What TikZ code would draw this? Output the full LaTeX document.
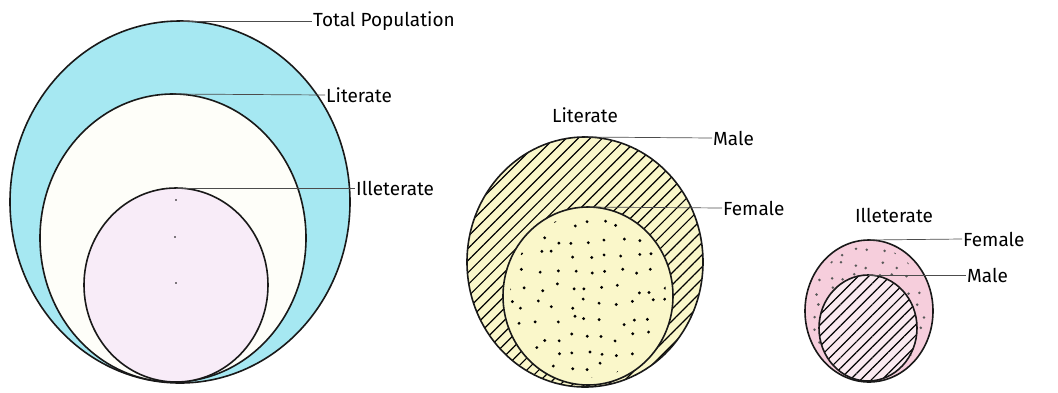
\documentclass[tikz,border=0pt]{standalone}
\usepackage{fontspec}
\setmainfont{Fira Sans}
\usetikzlibrary{shapes.geometric,patterns.meta}
\definecolor{popcyan}{RGB}{166,232,242}
\definecolor{litwhite}{RGB}{254,254,249}
\definecolor{illlilac}{RGB}{248,236,248}
\definecolor{lityellow}{RGB}{250,247,202}
\definecolor{illpink}{RGB}{246,206,220}
\definecolor{malepink}{RGB}{250,234,240}
\tikzset{
  ring/.style={ellipse, draw=black!90, line width=1.6pt, inner sep=0pt, outer sep=0pt},
  lbl/.style={anchor=west, inner sep=1pt, font=\fontsize{19}{21}\selectfont},
  lead/.style={draw=black!70, line width=0.7pt},
  hatch/.style={pattern={Lines[angle=45,distance=8.5pt,line width=1.2pt]}},
}
\begin{document}
\begin{tikzpicture}[x=1pt,y=-1pt]
  \useasboundingbox (0,0) rectangle (1058,392);

  % Total population, literate, illeterate
  \node[ring, fill=popcyan, minimum width=340pt, minimum height=362pt] (total) at (180,202) {};
  \node[ring, fill=litwhite, minimum width=266pt, minimum height=288pt] (lit) at (173,238) {};
  \node[ring, fill=illlilac, minimum width=184pt, minimum height=194pt] (ill) at (176,285) {};
  \fill (176,200) circle (0.9pt) (175,237) circle (0.9pt) (176,283) circle (0.9pt);
  \node[lbl] (totlbl) at (312,21) {Total Population};
  \node[lbl] (litlbl) at (325,95) {Literate};
  \node[lbl] (illlbl) at (355,188) {Illeterate};
  \draw[lead] (total.north) -- (totlbl.west);
  \draw[lead] (lit.north) -- (litlbl.west);
  \draw[lead] (ill.north) -- (illlbl.west);

  % Literate: male and female
  \node[font=\fontsize{19}{21}\selectfont] (littitle) at (585,115) {Literate};
  \node[ring, preaction={fill=lityellow}, hatch, minimum width=236pt, minimum height=250pt] (litmale) at (585,262) {};
  \node[ring, fill=lityellow, minimum width=170pt, minimum height=178pt] (litfem) at (588,296) {};
  \pgfmathsetseed{11}
  \begin{scope}
    \clip (588,296) ellipse [x radius=78, y radius=82];
    \foreach \gx in {-80,-64,...,80}
      \foreach \gy in {-88,-72,...,88}
        \fill ({588+\gx+10*(rnd-0.5)},{296+\gy+10*(rnd-0.5)}) circle (1.6pt);
  \end{scope}
  \node[lbl] (litmalelbl) at (712,138) {Male};
  \node[lbl] (litfemlbl) at (722,208) {Female};
  \draw[lead] (litmale.north) -- (litmalelbl.west);
  \draw[lead] (litfem.north) -- (litfemlbl.west);

  % Illeterate: female and male
  \node[font=\fontsize{19}{21}\selectfont] (illtitle) at (894,215) {Illeterate};
  \node[ring, fill=illpink, minimum width=128pt, minimum height=142pt] (illfem) at (869,311) {};
  \begin{scope}
    \clip (869,311) ellipse [x radius=58, y radius=65];
    \foreach \gx in {-65,-52,...,65}
      \foreach \gy in {-72,-59,...,72}
        \fill[black!65] ({869+\gx+8*(rnd-0.5)},{311+\gy+8*(rnd-0.5)}) circle (1.4pt);
  \end{scope}
  \node[ring, preaction={fill=malepink}, pattern={Lines[angle=45,distance=7.5pt,line width=1.2pt]}, minimum width=98pt, minimum height=106pt] (illmale) at (868,328) {};
  \node[lbl] (illfemlbl) at (962,239) {Female};
  \node[lbl] (illmalelbl) at (966,275) {Male};
  \draw[lead] (illfem.north) -- (illfemlbl.west);
  \draw[lead] (illmale.north) -- (illmalelbl.west);
\end{tikzpicture}
\end{document}
